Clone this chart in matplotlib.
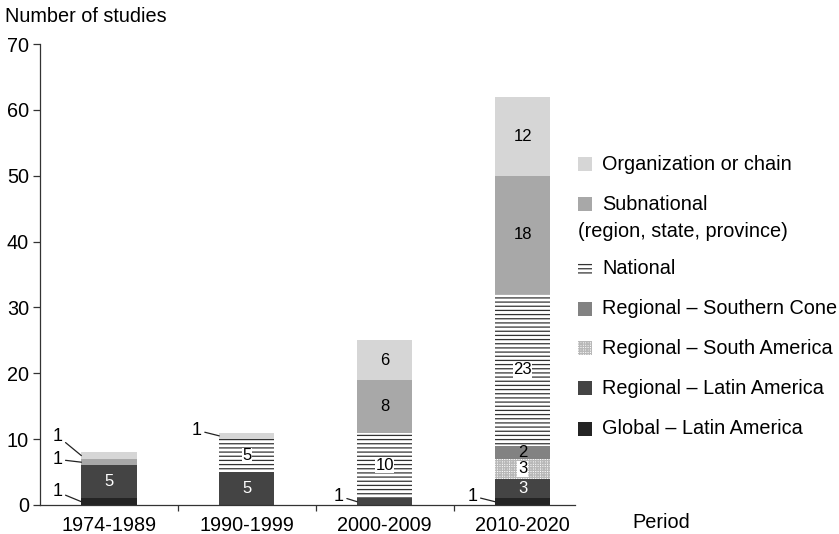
import matplotlib
matplotlib.use("Agg")
import matplotlib.pyplot as plt
from matplotlib.patches import Rectangle
import numpy as np

plt.rcParams['font.family'] = ['Liberation Sans', 'DejaVu Sans']
plt.rcParams['hatch.linewidth'] = 0.9

periods = ['1974-1989', '1990-1999', '2000-2009', '2010-2020']
global_la = [1, 0, 0, 1]
regional_la = [5, 5, 1, 3]
regional_sa = [0, 0, 0, 3]
regional_sc = [0, 0, 0, 2]
national = [0, 5, 10, 23]
subnational = [1, 0, 8, 18]
organization = [1, 1, 6, 12]

series = [
    ('Global – Latin America', global_la, dict(color='#242424'), 'white'),
    ('Regional – Latin America', regional_la, dict(color='#444444'), 'white'),
    ('Regional – South America', regional_sa, dict(facecolor='white', edgecolor='#b8b8b8', hatch='+++++++'), 'black'),
    ('Regional – Southern Cone', regional_sc, dict(color='#828282'), 'black'),
    ('National', national, dict(facecolor='white', edgecolor='#333333', hatch='----'), 'black'),
    ('Subnational\n(region, state, province)', subnational, dict(color='#a8a8a8'), 'black'),
    ('Organization or chain', organization, dict(color='#d6d6d6'), 'black'),
]

# offsets (points) for external "1" labels: (series index, period index) -> (dx, dy)
ext_offsets = {
    (0, 0): (-17, 7),
    (5, 0): (-17, 2),
    (6, 0): (-17, 14),
    (6, 1): (-16, 4),
    (1, 2): (-13, 4),
    (0, 3): (-16, 4),
}

fig = plt.figure(figsize=(8.39, 5.34), dpi=100)
ax = fig.add_axes([40 / 839, 29 / 534, 535 / 839, 461 / 534])

x = np.arange(len(periods))
width = 0.4
bottom = np.zeros(len(periods))
fs = 14.3
fs_in = 12
fs_ext = 13

for si, (name, vals, style, tcol) in enumerate(series):
    vals = np.array(vals, dtype=float)
    ax.bar(x, vals, width, bottom=bottom, linewidth=0, **style)
    for pi, v in enumerate(vals):
        if v <= 0:
            continue
        mid = bottom[pi] + v / 2
        if v >= 2:
            kw = {}
            if 'hatch' in style:
                kw['bbox'] = dict(boxstyle='square,pad=0.03', facecolor='white', edgecolor='none')
            ax.text(x[pi], mid, f'{int(v)}', ha='center', va='center',
                    fontsize=fs_in, color=tcol, **kw)
        else:
            dx, dy = ext_offsets.get((si, pi), (-16, 4))
            ax.annotate(f'{int(v)}', xy=(x[pi] - width / 2, mid),
                        xytext=(dx, dy), textcoords='offset points',
                        ha='center', va='center', fontsize=fs_ext, color='black',
                        arrowprops=dict(arrowstyle='-', color='#222222', lw=0.9,
                                        shrinkA=0, shrinkB=0))
    bottom += vals

ax.set_xlim(-0.5, 3.38)
ax.set_ylim(0, 70)
ax.set_yticks(range(0, 71, 10))
ax.set_xticks(x)
ax.set_xticklabels(periods, fontsize=fs)
ax.set_xticks([0.5, 1.5, 2.5], minor=True)
ax.tick_params(axis='x', which='major', length=0, pad=8)
ax.tick_params(axis='x', which='minor', length=4, width=0.9, color='#333333', direction='out')
ax.tick_params(axis='y', length=5, width=0.9, color='#333333', labelsize=fs, pad=3)
for s in ['top', 'right']:
    ax.spines[s].set_visible(False)
for s in ['left', 'bottom']:
    ax.spines[s].set_color('#333333')
    ax.spines[s].set_linewidth(0.9)

fig.text(5 / 839, 1 - 17 / 534, 'Number of studies', fontsize=fs, ha='left', va='center')
fig.text(632 / 839, 1 - 522 / 534, 'Period', fontsize=fs, ha='left', va='center')

# legend (manual)
leg_y = [164, 204, 269, 309, 348, 388, 429]
leg_order = [6, 5, 4, 3, 2, 1, 0]
sq = 14
for yy, si in zip(leg_y, leg_order):
    name, vals, style, tcol = series[si]
    r = Rectangle((578 / 839, 1 - (yy + sq / 2) / 534), sq / 839, sq / 534,
                  transform=fig.transFigure, linewidth=0, **style)
    fig.add_artist(r)
    lines = name.split('\n')
    fig.text(602 / 839, 1 - yy / 534, lines[0], fontsize=fs, ha='left', va='center')
    if len(lines) > 1:
        fig.text(578 / 839, 1 - (yy + 27) / 534, lines[1], fontsize=fs, ha='left', va='center')

fig.savefig('out.png', dpi=100)
